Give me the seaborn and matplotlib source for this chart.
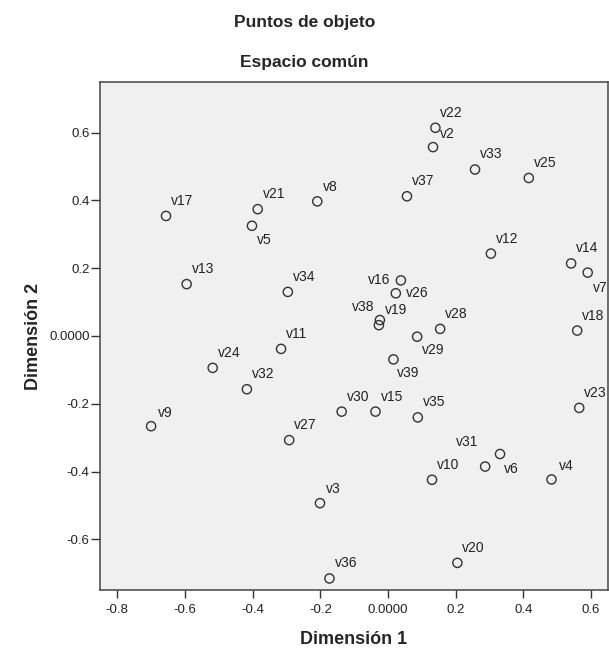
import pandas as pd
import seaborn as sns
import matplotlib.pyplot as plt

# object points (common space)
labels = ['v2', 'v3', 'v4', 'v5', 'v6', 'v7', 'v8', 'v9', 'v10', 'v11',
          'v12', 'v13', 'v14', 'v15', 'v16', 'v17', 'v18', 'v19', 'v20', 'v21',
          'v22', 'v23', 'v24', 'v25', 'v26', 'v27', 'v28', 'v29', 'v30', 'v31',
          'v32', 'v33', 'v34', 'v35', 'v36', 'v37', 'v38', 'v39']
dim1 = [0.133, -0.201, 0.483, -0.402, 0.287, 0.590, -0.209, -0.700, 0.130, -0.316,
        0.304, -0.595, 0.541, -0.037, 0.038, -0.656, 0.559, -0.024, 0.205, -0.385,
        0.140, 0.565, -0.518, 0.416, 0.023, -0.292, 0.154, 0.086, -0.137, 0.331,
        -0.417, 0.257, -0.296, 0.088, -0.173, 0.056, -0.027, 0.016]
dim2 = [0.557, -0.493, -0.423, 0.325, -0.385, 0.187, 0.397, -0.266, -0.424, -0.038,
        0.243, 0.153, 0.214, -0.223, 0.164, 0.354, 0.016, 0.047, -0.669, 0.374,
        0.614, -0.212, -0.094, 0.466, 0.126, -0.307, 0.021, -0.002, -0.223, -0.348,
        -0.157, 0.491, 0.130, -0.240, -0.715, 0.412, 0.032, -0.069]

xticks = [-0.8, -0.6, -0.4, -0.2, 0.0, 0.2, 0.4, 0.6]
xticklabels = ['-0.8', '-0.6', '-0.4', '-0.2', '0.0000', '0.2', '0.4', '0.6']
yticks = [-0.6, -0.4, -0.2, 0.0, 0.2, 0.4, 0.6]
yticklabels = ['-0.6', '-0.4', '-0.2', '0.0000', '0.2', '0.4', '0.6']

df = pd.DataFrame({'label': labels, 'dim1': dim1, 'dim2': dim2})

# where each text sits relative to its point (pixels: right, down, alignment)
default_place = (5, -15, 'left')
place = {
    'v2': (7, -13, 'left'), 'v4': (7, -13, 'left'), 'v8': (6, -14, 'left'),
    'v9': (7, -13, 'left'), 'v3': (6, -14, 'left'),
    'v5': (5, 14, 'left'), 'v6': (19, 2, 'left'), 'v7': (5, 15, 'left'),
    'v16': (-11, 0, 'right'), 'v26': (10, 0, 'left'),
    'v38': (-4, -18, 'right'), 'v19': (5, -10, 'left'),
    'v29': (5, 13, 'left'), 'v39': (4, 14, 'left'),
    'v31': (-22, -12, 'right'),
}

sns.set_theme(style='ticks')
plt.rcParams['font.family'] = ['Liberation Sans', 'DejaVu Sans']

fig = plt.figure(figsize=(6.09, 6.5), dpi=100)
ax = fig.add_axes([100 / 609, 60 / 650, 508 / 609, 508 / 650])
ax.set_facecolor('#f0f0f0')

sns.scatterplot(data=df, x='dim1', y='dim2', ax=ax, marker='o', s=44,
                facecolors='none', edgecolor='#333333', linewidth=1.0)

for name, x, y in zip(df['label'], df['dim1'], df['dim2']):
    dx, dy, ha = place.get(name, default_place)
    ax.annotate(name, (x, y), xytext=(dx, -dy), textcoords='offset pixels',
                ha=ha, va='center', fontsize=10, color='#222222')

ax.set_xlim(-0.851, 0.650)
ax.set_ylim(-0.749, 0.749)
ax.set_xticks(xticks)
ax.set_xticklabels(xticklabels)
ax.set_yticks(yticks)
ax.set_yticklabels(yticklabels)
ax.tick_params(axis='x', length=6, width=1, pad=4, labelsize=9.5, color='#333333', labelcolor='#222222')
ax.tick_params(axis='y', length=6.5, width=1, pad=1, labelsize=9.5, color='#333333', labelcolor='#222222')
for sp in ax.spines.values():
    sp.set_color('#444444')
    sp.set_linewidth(1.1)

ax.set_xlabel('Dimensión 1', fontsize=13, fontweight='bold', labelpad=11)
ax.set_ylabel('Dimensión 2', fontsize=13, fontweight='bold', labelpad=5)

fig.text(0.5, 1 - 23 / 650, 'Puntos de objeto', ha='center', va='center',
         fontsize=12.5, fontweight='bold')
fig.text(0.5, 1 - 63 / 650, 'Espacio común', ha='center', va='center',
         fontsize=12.5, fontweight='bold')

plt.savefig('out.png', dpi=100)
plt.close()
